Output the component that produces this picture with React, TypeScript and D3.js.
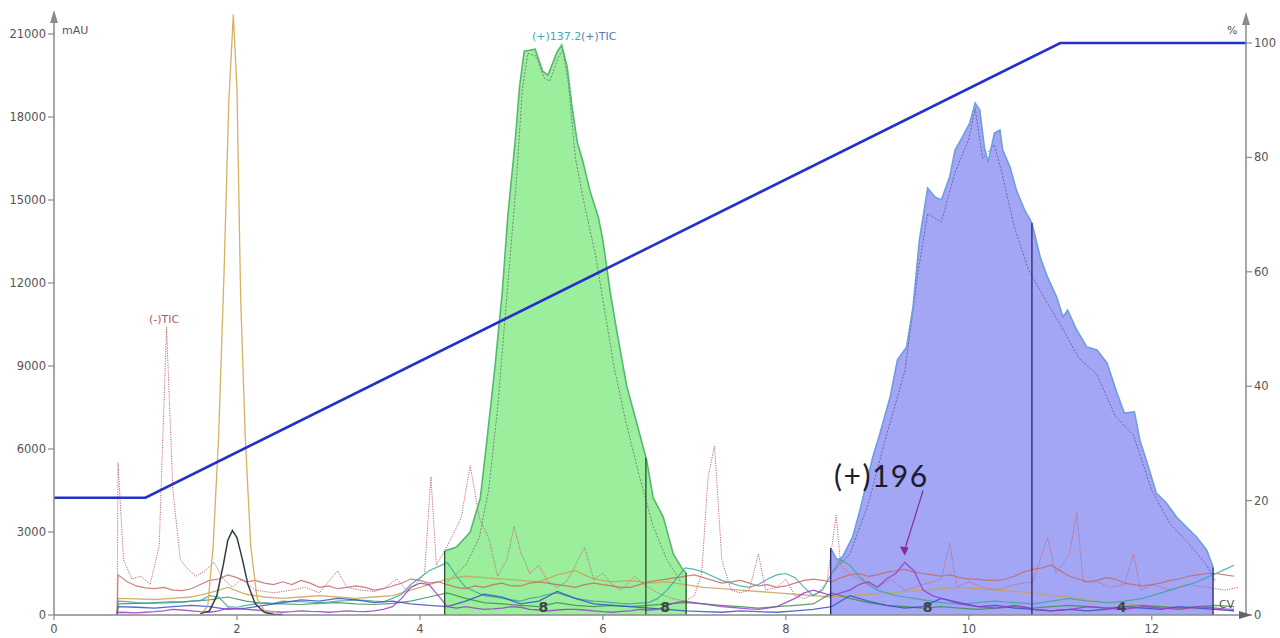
import React from 'react';
import * as d3 from 'd3';

type Pt = [number, number];

// Axis ticks
const cvTicks = [0, 2, 4, 6, 8, 10, 12];
const mauTicks = [0, 3000, 6000, 9000, 12000, 15000, 18000, 21000];
const pctTicks = [0, 20, 40, 60, 80, 100];

// Gradient program, %B vs CV
const gradientCv = [0, 1, 11, 13.03];
const gradientPct = [20.5, 20.5, 100, 100];

// Collected fraction 1 (green) — UV trace, mAU
const peakGreen: Pt[] = [
  [4.27, 2310], [4.40, 2460], [4.55, 3000], [4.66, 4230], [4.73, 6250], [4.82, 8960],
  [4.90, 11670], [4.96, 14380], [5.04, 17090], [5.09, 19120], [5.14, 20380], [5.26, 20450],
  [5.34, 19660], [5.40, 19520], [5.50, 20350], [5.55, 20600], [5.61, 19800], [5.66, 18430],
  [5.72, 17090], [5.78, 16410], [5.86, 15320], [5.95, 14380], [6.00, 13550], [6.08, 11670],
  [6.15, 10300], [6.26, 8280], [6.37, 6940], [6.48, 5570], [6.55, 4230], [6.66, 3540],
  [6.77, 2200], [6.87, 1660], [6.91, 1520],
];
const greenCuts = [4.27, 6.47, 6.91];

// Collected fraction 2 (blue) — UV trace, mAU
const peakBlue: Pt[] = [
  [8.49, 2420], [8.56, 1990], [8.62, 2100], [8.73, 2820], [8.81, 3790], [8.89, 4880],
  [8.95, 5710], [9.03, 6580], [9.14, 7880], [9.22, 9220], [9.32, 9690], [9.39, 11130],
  [9.46, 13550], [9.55, 15430], [9.63, 15110], [9.70, 15000], [9.79, 15830], [9.85, 16810],
  [9.93, 17280], [10.01, 17780], [10.07, 18500], [10.12, 18250], [10.17, 16910], [10.21, 16370],
  [10.28, 17420], [10.34, 17530], [10.37, 16810], [10.45, 16190], [10.52, 15360], [10.61, 14640],
  [10.69, 14170], [10.78, 12940], [10.86, 12220], [10.96, 11490], [11.03, 10770], [11.08, 11020],
  [11.18, 10300], [11.29, 9690], [11.40, 9580], [11.51, 9110], [11.62, 8020], [11.70, 7300],
  [11.81, 7340], [11.87, 6320], [11.95, 5490], [12.05, 4410], [12.16, 4050], [12.27, 3540],
  [12.38, 3180], [12.49, 2820], [12.60, 2350], [12.67, 1730],
];
const blueCuts = [8.49, 10.69, 12.67];

// (+)137.2 extracted ion trace under fraction 1
const ion137: Pt[] = [
  [4.30, 1200], [4.50, 1800], [4.65, 2800], [4.75, 4500], [4.85, 7500], [4.95, 11500],
  [5.05, 15500], [5.12, 19000], [5.18, 20300], [5.27, 20200], [5.36, 19400], [5.42, 19300],
  [5.52, 20200], [5.56, 20400], [5.62, 19300], [5.70, 16500], [5.80, 14800], [5.92, 13000],
  [6.02, 11000], [6.12, 9000], [6.25, 7000], [6.40, 5000], [6.55, 3200], [6.70, 2000], [6.85, 1200],
];

// Ion trace under fraction 2
const ionBlue: Pt[] = [
  [8.50, 1500], [8.70, 2200], [8.90, 4000], [9.10, 6500], [9.30, 8800], [9.45, 12500],
  [9.55, 14500], [9.70, 14200], [9.85, 16000], [10.00, 17200], [10.07, 18300], [10.15, 16500],
  [10.28, 17000], [10.36, 16000], [10.50, 14000], [10.65, 12500], [10.80, 11600], [11.00, 10500],
  [11.20, 9300], [11.40, 8700], [11.60, 7200], [11.80, 6500], [12.00, 4500], [12.20, 3300],
  [12.40, 2600], [12.60, 1800], [12.70, 1200],
];

// Early eluting UV peaks
const peakYellow: Pt[] = [
  [1.62, 100], [1.68, 300], [1.74, 2500], [1.80, 6500], [1.86, 12500], [1.91, 18500],
  [1.96, 21700], [2.00, 19000], [2.04, 11500], [2.09, 6500], [2.15, 2500], [2.22, 600],
  [2.30, 150], [2.40, 100],
];
const peakDark: Pt[] = [
  [1.60, 50], [1.70, 150], [1.78, 700], [1.85, 1800], [1.90, 2700], [1.95, 3050],
  [2.00, 2800], [2.06, 2000], [2.12, 1100], [2.20, 400], [2.30, 100], [2.40, 30], [2.50, 20],
];

// (-)TIC, negative mode total ion current (dotted)
const ticNeg: Pt[] = [
  [0.69, 0], [0.70, 5500], [0.76, 2000], [0.85, 1300], [0.95, 1400], [1.05, 1100], [1.15, 2500],
  [1.23, 10400], [1.30, 4500], [1.38, 2000], [1.45, 1700], [1.55, 1400], [1.65, 1600],
  [1.75, 1900], [1.85, 1300], [1.95, 1000], [2.05, 1300], [2.20, 900], [2.40, 800],
  [2.60, 900], [2.75, 1000], [2.90, 800], [3.00, 1200], [3.10, 1600], [3.20, 1000],
  [3.35, 900], [3.50, 850], [3.60, 950], [3.75, 1300], [3.85, 900], [3.95, 1100],
  [4.05, 1500], [4.12, 5000], [4.18, 1800], [4.30, 2500], [4.45, 3500], [4.55, 5400],
  [4.65, 3500], [4.75, 2800], [4.85, 1400], [4.95, 2000], [5.03, 3200], [5.10, 2300],
  [5.20, 1500], [5.30, 1800], [5.40, 1200], [5.50, 1000], [5.60, 1200], [5.70, 1800],
  [5.80, 2450], [5.90, 1300], [6.00, 1500], [6.10, 1100], [6.20, 900], [6.35, 1400],
  [6.45, 1100], [6.60, 800], [6.75, 600], [6.90, 500], [7.00, 700], [7.08, 1500],
  [7.15, 5000], [7.22, 6100], [7.30, 2000], [7.40, 900], [7.50, 800], [7.60, 900],
  [7.70, 2200], [7.78, 900], [7.90, 1000], [8.00, 1300], [8.10, 700], [8.20, 600],
  [8.35, 800], [8.45, 1200], [8.55, 3600], [8.60, 1800], [8.70, 1500], [8.85, 1200],
  [9.00, 1000], [9.15, 1300], [9.30, 900], [9.50, 1100], [9.70, 1300], [9.79, 2600],
  [9.87, 1000], [10.00, 1200], [10.15, 1000], [10.30, 900], [10.50, 1100], [10.70, 1200],
  [10.86, 2800], [10.95, 1500], [11.10, 2200], [11.18, 3700], [11.25, 1200], [11.40, 1200],
  [11.55, 1000], [11.70, 1100], [11.80, 2200], [11.88, 900], [12.00, 1100], [12.20, 900],
  [12.40, 1100], [12.60, 1000], [12.80, 900], [12.95, 1000],
];

// Sampling positions (CV) for the coarse low-level traces
const baseCv = [
  0.69,
  0.7, 0.9, 1.1, 1.3, 1.5, 1.7, 1.9, 2.1, 2.3, 2.5,
  2.7, 2.9, 3.1, 3.3, 3.5, 3.7, 3.9, 4.1, 4.3, 4.5,
  4.7, 4.9, 5.1, 5.3, 5.5, 5.7, 5.9, 6.1, 6.3, 6.5,
  6.7, 6.9, 7.1, 7.3, 7.5, 7.7, 7.9, 8.1, 8.3, 8.5,
  8.7, 8.9, 9.1, 9.3, 9.5, 9.7, 9.9, 10.1, 10.3, 10.5,
  10.7, 10.9, 11.1, 11.3, 11.5, 11.7, 11.9, 12.1, 12.3, 12.5,
  12.7, 12.9,
];

// Sampling positions (CV) for the finer traces
const fineCv = [
  0.69,
  0.7, 0.8, 0.9, 1.0, 1.1, 1.2, 1.3, 1.4, 1.5, 1.6,
  1.7, 1.8, 1.9, 2.0, 2.1, 2.2, 2.3, 2.4, 2.5, 2.6,
  2.7, 2.8, 2.9, 3.0, 3.1, 3.2, 3.3, 3.4, 3.5, 3.6,
  3.7, 3.8, 3.9, 4.0, 4.1, 4.2, 4.3, 4.4, 4.5, 4.6,
  4.7, 4.8, 4.9, 5.0, 5.1, 5.2, 5.3, 5.4, 5.5, 5.6,
  5.7, 5.8, 5.9, 6.0, 6.1, 6.2, 6.3, 6.4, 6.5, 6.6,
  6.7, 6.8, 6.9, 7.0, 7.1, 7.2, 7.3, 7.4, 7.5, 7.6,
  7.7, 7.8, 7.9, 8.0, 8.1, 8.2, 8.3, 8.4, 8.5, 8.6,
  8.7, 8.8, 8.9, 9.0, 9.1, 9.2, 9.3, 9.4, 9.5, 9.6,
  9.7, 9.8, 9.9, 10.0, 10.1, 10.2, 10.3, 10.4, 10.5, 10.6,
  10.7, 10.8, 10.9, 11.0, 11.1, 11.2, 11.3, 11.4, 11.5, 11.6,
  11.7, 11.8, 11.9, 12.0, 12.1, 12.2, 12.3, 12.4, 12.5, 12.6,
  12.7, 12.8, 12.9,
];

const roseTrace = [
  0,
  1450, 1200, 1050, 980, 950, 1000, 900, 880, 950, 1100,
  1250, 1300, 1450, 1350, 1200, 1250, 1150, 1100, 1200, 1100,
  1250, 1150, 1000, 1050, 950, 1000, 1050, 1000, 900, 950,
  1050, 1150, 1300, 1250, 1150, 1200, 1100, 1000, 950, 1050,
  1000, 1100, 1150, 1050, 1050, 1150, 1200, 1150, 1100, 1050,
  1000, 1100, 1150, 1100, 1050, 1000, 1000, 1100, 1200, 1250,
  1300, 1350, 1400, 1450, 1350, 1250, 1150, 1200, 1250, 1150,
  1050, 1100, 1000, 1050, 1150, 1250, 1300, 1250, 1200, 1350,
  1450, 1500, 1400, 1450, 1550, 1600, 1650, 1550, 1500, 1450,
  1400, 1450, 1350, 1300, 1300, 1250, 1250, 1300, 1400, 1550,
  1650, 1700, 1800, 1600, 1400, 1300, 1200, 1250, 1350, 1300,
  1150, 1100, 1050, 1100, 1150, 1250, 1300, 1400, 1450, 1500,
  1500, 1450, 1400,
];
const tealTrace = [
  0,
  500, 480, 450, 430, 450, 470, 480, 460, 500, 520,
  700, 650, 300, 280, 350, 400, 450, 420, 500, 480,
  480, 460, 450, 470, 500, 520, 550, 530, 500, 480,
  600, 750, 1100, 1350, 1600, 1750, 1900, 1400, 1000, 850,
  700, 650, 600, 550, 500, 600, 650, 750, 800, 700,
  600, 550, 500, 480, 450, 420, 400, 430, 450, 600,
  900, 1300, 1700, 1650, 1550, 1400, 1250, 1150, 1050, 1000,
  1100, 1300, 1450, 1500, 1350, 1000, 700, 900, 1500, 2000,
  1800, 1400, 1100, 900, 800, 700, 650, 600, 550, 500,
  450, 420, 400, 420, 450, 480, 500, 470, 450, 430,
  400, 450, 500, 550, 600, 550, 500, 480, 450, 470,
  500, 550, 600, 700, 800, 900, 1000, 1100, 1200, 1350,
  1500, 1650, 1800,
];
const purpleTrace = [
  0,
  100, 90, 80, 100, 120, 150, 200, 180, 150, 120,
  100, 150, 250, 220, 200, 180, 150, 120, 100, 120,
  150, 130, 120, 100, 120, 150, 130, 120, 150, 200,
  300, 600, 1000, 1150, 1100, 700, 300, 250, 300, 250,
  200, 220, 250, 300, 280, 200, 180, 150, 180, 200,
  200, 180, 150, 120, 100, 130, 150, 200, 180, 200,
  350, 450, 500, 450, 400, 350, 300, 280, 250, 220,
  200, 250, 300, 450, 600, 800, 900, 800, 700, 800,
  900, 1100, 1200, 1000, 1300, 1500, 1900, 1600, 900, 700,
  600, 500, 400, 350, 300, 280, 250, 300, 350, 300,
  200, 180, 150, 180, 200, 250, 300, 280, 250, 220,
  200, 250, 300, 280, 250, 230, 200, 250, 300, 280,
  250, 220, 200,
];
const greenTrace = [
  0,
  400, 420, 430, 450, 500, 550, 650, 500, 420, 400,
  380, 420, 450, 400, 380, 420, 500, 650, 800, 600,
  450, 400, 350, 300, 450, 350, 300, 350, 300, 350,
  400, 450, 400, 350, 300, 250, 300, 350, 400, 800,
  600, 450, 350, 300, 250, 300, 250, 200, 250, 300,
  250, 300, 350, 300, 250, 300, 350, 300, 250, 300,
  350, 300,
];
const blueTrace = [
  0,
  300, 280, 250, 300, 350, 300, 200, 250, 350, 450,
  550, 500, 600, 550, 450, 500, 400, 350, 300, 500,
  750, 650, 400, 500, 850, 600, 400, 350, 300, 250,
  200, 150, 120, 100, 150, 120, 100, 150, 200, 300,
  700, 500, 350, 250, 300, 600, 450, 300, 350, 250,
  200, 150, 200, 150, 200, 300, 250, 200, 300, 250,
  200, 150,
];
const oliveTrace = [
  0,
  600, 580, 560, 600, 650, 800, 1000, 750, 650, 600,
  650, 700, 650, 600, 650, 700, 900, 1100, 1300, 1400,
  1350, 1300, 1250, 1200, 1450, 1600, 1300, 1200, 1250, 1150,
  1200, 1100, 1000, 950, 900, 850, 800, 750, 700, 650,
  700, 750, 800, 850, 900, 950, 1000, 950, 900, 850,
  800, 700, 650, 550, 450, 400, 350, 300, 250, 200,
  200, 150,
];

// Fraction numbers printed at the base of each cut
const fractionLabelCv = [5.35, 6.68, 9.55, 11.67];
const fractionLabelText = ['8', '8', '8', '4'];

// Callout for the (+)196 ion
const calloutFrom: Pt = [9.5, 4500];
const calloutTo: Pt = [9.3, 2150];

const zip = (cv: number[], vals: number[]): Pt[] => cv.map((c, i) => [c, vals[i]] as Pt);

function valueAt(pts: Pt[], c: number): number {
  const i = d3.bisector((d: Pt) => d[0]).left(pts, c);
  if (i <= 0) return pts[0][1];
  if (i >= pts.length) return pts[pts.length - 1][1];
  const a = pts[i - 1], b = pts[i];
  const t = (c - a[0]) / (b[0] - a[0]);
  return a[1] + t * (b[1] - a[1]);
}

export default function App() {
  const x = d3.scaleLinear().domain([0, 13.03]).range([54, 1246]);
  const yL = d3.scaleLinear().domain([0, 21000]).range([615, 34]);
  const yR = d3.scaleLinear().domain([0, 100]).range([615, 43]);

  const line = d3.line<Pt>().x(d => x(d[0])).y(d => yL(d[1]));
  const area = d3.area<Pt>().x(d => x(d[0])).y0(yL(0)).y1(d => yL(d[1]));
  const gradLine = d3.line<Pt>().x(d => x(d[0])).y(d => yR(d[1]));

  const axisColor = '#8a8a8a';
  const labelFont = 'DejaVu Sans, sans-serif';

  const traces = [
    { data: zip(baseCv, oliveTrace), color: '#c9a25a', w: 1.3 },
    { data: zip(fineCv, roseTrace), color: '#c46a6a', w: 1.2 },
    { data: zip(baseCv, greenTrace), color: '#3f8f4f', w: 1.2 },
    { data: zip(fineCv, tealTrace), color: '#3aa6a6', w: 1.2 },
    { data: zip(baseCv, blueTrace), color: '#3a4fc4', w: 1.3 },
    { data: zip(fineCv, purpleTrace), color: '#9a3cc8', w: 1.3 },
  ];

  const x0 = x(0);
  const y0 = yL(0);
  const xEnd = x(13.03);

  return (
    <svg width={1280} height={638} style={{ position: 'absolute', left: 0, top: 0, background: '#fff' }}
      fontFamily={labelFont}>
      {/* fraction fills */}
      <path d={area(peakGreen) || ''} fill="#9bee9b" />
      <path d={area(peakBlue) || ''} fill="#a2a6f4" />

      {/* ion traces inside fractions */}
      <path d={line(ion137) || ''} fill="none" stroke="#6a5a7a" strokeWidth={0.9} strokeDasharray="2,1.5" opacity={0.8} />
      <path d={line(ionBlue) || ''} fill="none" stroke="#5a4a8a" strokeWidth={0.9} strokeDasharray="2,1.5" opacity={0.8} />

      {/* low level detector traces */}
      {traces.map((t, i) => (
        <path key={i} d={line(t.data) || ''} fill="none" stroke={t.color} strokeWidth={t.w} opacity={0.85} />
      ))}

      {/* early UV peaks */}
      <path d={line(peakYellow) || ''} fill="none" stroke="#d8b060" strokeWidth={1.3} />
      <path d={line(peakDark) || ''} fill="none" stroke="#2f3f3f" strokeWidth={1.5} />

      {/* (-)TIC dotted */}
      <path d={line(ticNeg) || ''} fill="none" stroke="#c06878" strokeWidth={1} strokeDasharray="1.2,1.2" />

      {/* fraction outlines */}
      <path d={line(peakGreen) || ''} fill="none" stroke="#55b870" strokeWidth={1.6} />
      <path d={line(peakBlue) || ''} fill="none" stroke="#6c9ee0" strokeWidth={1.6} />

      {/* fraction cut markers */}
      {greenCuts.map((c, i) => (
        <line key={'g' + i} x1={x(c)} x2={x(c)} y1={y0} y2={yL(valueAt(peakGreen, c))}
          stroke="#2c4a2c" strokeWidth={1.3} />
      ))}
      {blueCuts.map((c, i) => (
        <line key={'b' + i} x1={x(c)} x2={x(c)} y1={y0} y2={yL(valueAt(peakBlue, c))}
          stroke="#26266e" strokeWidth={1.3} />
      ))}

      {/* gradient */}
      <path d={gradLine(zip(gradientCv, gradientPct)) || ''} fill="none" stroke="#2430cc" strokeWidth={2.6} />

      {/* left axis */}
      <line x1={x0} x2={x0} y1={y0} y2={14} stroke={axisColor} strokeWidth={1.5} />
      <polygon points={`${x0},10 ${x0 - 4},23 ${x0 + 4},23`} fill={axisColor} />
      {mauTicks.map(t => (
        <g key={'l' + t}>
          <line x1={x0 - 6} x2={x0} y1={yL(t)} y2={yL(t)} stroke={axisColor} strokeWidth={1.2} />
          <text x={x0 - 8} y={yL(t) + 4} textAnchor="end" fontSize={11.5} fill="#555">{t}</text>
        </g>
      ))}
      <text x={62} y={34} fontSize={11} fill="#555">mAU</text>

      {/* right axis */}
      <line x1={xEnd} x2={xEnd} y1={y0} y2={16} stroke={axisColor} strokeWidth={1.5} />
      <polygon points={`${xEnd},12 ${xEnd - 4},25 ${xEnd + 4},25`} fill={axisColor} />
      {pctTicks.map(t => (
        <g key={'r' + t}>
          <line x1={xEnd} x2={xEnd + 6} y1={yR(t)} y2={yR(t)} stroke={axisColor} strokeWidth={1.2} />
          <text x={xEnd + 8} y={yR(t) + 4} fontSize={11.5} fill="#555">{t}</text>
        </g>
      ))}
      <text x={1227} y={34} fontSize={11} fill="#555">%</text>

      {/* bottom axis */}
      <line x1={x0} x2={xEnd + 2} y1={y0} y2={y0} stroke={axisColor} strokeWidth={1.5} />
      <polygon points={`${xEnd + 6},${y0} ${xEnd - 7},${y0 - 4} ${xEnd - 7},${y0 + 4}`} fill="#666" />
      {cvTicks.map(t => (
        <g key={'x' + t}>
          <line x1={x(t)} x2={x(t)} y1={y0} y2={y0 + 5} stroke={axisColor} strokeWidth={1.2} />
          <text x={x(t)} y={y0 + 18} textAnchor="middle" fontSize={11.5} fill="#555">{t}</text>
        </g>
      ))}
      <text x={1219} y={608} fontSize={11} fill="#555">CV</text>

      {/* fraction numbers */}
      {fractionLabelCv.map((c, i) => (
        <text key={'f' + i} x={x(c)} y={612} textAnchor="middle" fontSize={14} fontWeight="bold" fill="#444">
          {fractionLabelText[i]}
        </text>
      ))}

      {/* trace labels */}
      <text x={149} y={323} fontSize={11} fill="#b05a5a">(-)TIC</text>
      <text x={532} y={40} fontSize={11} fill="#3aaab4">(+)137.2</text>
      <text x={581} y={40} fontSize={11} fill="#5a78a8">(+)TIC</text>

      {/* (+)196 callout */}
      <text x={834} y={487} fontSize={30} letterSpacing={1.5} fontFamily="Lato, sans-serif" fill="#1c1c2c">(+)196</text>
      <line x1={x(calloutFrom[0])} y1={yL(calloutFrom[1])} x2={x(calloutTo[0])} y2={yL(calloutTo[1]) - 6}
        stroke="#8a2a9a" strokeWidth={1.2} />
      <polygon
        points={`${x(calloutTo[0])},${yL(calloutTo[1])} ${x(calloutTo[0]) - 5},${yL(calloutTo[1]) - 9} ${x(calloutTo[0]) + 4},${yL(calloutTo[1]) - 8}`}
        fill="#8a2a9a" />
    </svg>
  );
}
